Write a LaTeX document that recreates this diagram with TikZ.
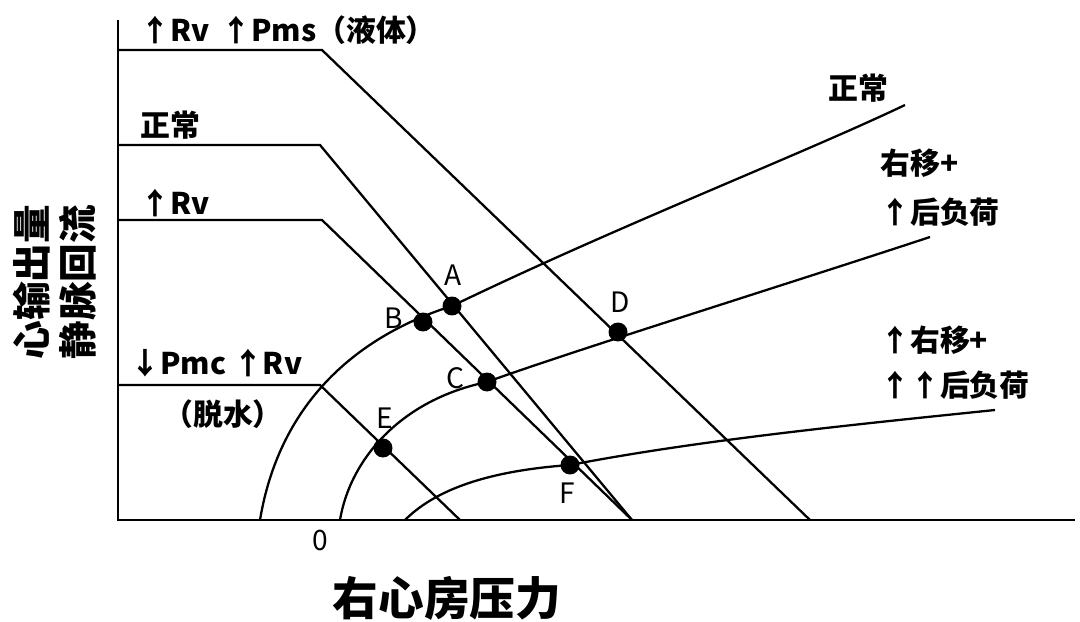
\documentclass[tikz,border=0pt]{standalone}
\usepackage{fontspec}
\newfontfamily\cjk{Noto Sans CJK SC}
\begin{document}
\begin{tikzpicture}[x=0.02cm,y=-0.02cm,
  ln/.style={line width=1.3pt},
  dot/.style={circle,fill=black,inner sep=0pt,minimum size=0.38cm},
  lab/.style={font=\cjk\fontsize{17}{19}\selectfont\bfseries,anchor=west,inner sep=0pt},
  pl/.style={font=\cjk\fontsize{16}{18}\selectfont,inner sep=0pt}]
\useasboundingbox (0,0) rectangle (1080,622);
\coordinate (O) at (118,520);
\coordinate (Ytop) at (118,20);
\coordinate (Xend) at (1075,520);
\draw[ln] (Ytop) -- (O) -- (Xend);
% venous return
\coordinate (v1a) at (118,50); \coordinate (v1b) at (322,50); \coordinate (v1c) at (810,520);
\coordinate (v2a) at (118,145); \coordinate (v2b) at (320,145); \coordinate (v2c) at (632,520);
\coordinate (v3a) at (118,220); \coordinate (v3b) at (322,220); \coordinate (v3c) at (632,520);
\coordinate (v4a) at (118,385); \coordinate (v4b) at (320,385); \coordinate (v4c) at (460,520);
\draw[ln] (v1a)--(v1b)--(v1c);
\draw[ln] (v2a)--(v2b)--(v2c);
\draw[ln] (v3a)--(v3b)--(v3c);
\draw[ln] (v4a)--(v4b)--(v4c);
% points
\node[dot] (A) at (452,306) {};
\node[dot] (B) at (423,322) {};
\node[dot] (C) at (487,382) {};
\node[dot] (D) at (618,332) {};
\node[dot] (E) at (383,448) {};
\node[dot] (F) at (570,465) {};
% cardiac output
\coordinate (c1s) at (260,520); \coordinate (c1e) at (905,105);
\coordinate (c2s) at (340,520); \coordinate (c2e) at (930,237);
\coordinate (c3s) at (405,520); \coordinate (c3e) at (995,410);
\draw[ln] (c1s) .. controls (280,400) and (360,335) .. (A.center) .. controls (620,225) and (800,155) .. (c1e);
\draw[ln] (c2s) .. controls (350,460) and (400,400) .. (C.center) .. controls (560,355) and (800,280) .. (c2e);
\draw[ln] (c3s) .. controls (440,485) and (500,470) .. (F.center) .. controls (700,440) and (850,425) .. (c3e);
% point labels
\node[pl] at (453,275) {A};
\node[pl] at (394,318) {B};
\node[pl] at (455,378) {C};
\node[pl] at (620,302) {D};
\node[pl] at (385,418) {E};
\node[pl] at (567,493) {F};
% curve labels
\node[lab] at (140,30) {↑Rv\, ↑Pms（液体）};
\node[lab] at (140,125) {正常};
\node[lab] at (140,203) {↑Rv};
\node[lab] at (130,363) {↓Pmc ↑Rv};
\node[lab] at (163,414) {（脱水）};
\node[lab] at (828,88) {正常};
\node[lab] at (880,163) {右移+};
\node[lab] at (880,212) {↑后负荷};
\node[lab] at (880,340) {↑右移+};
\node[lab] at (880,385) {↑↑后负荷};
\node[pl] at (320,540) {0};
\node[font=\cjk\fontsize{26}{29}\selectfont\bfseries,inner sep=0pt] at (447,598) {右心房压力};
\node[font=\cjk\fontsize{22}{26}\selectfont\bfseries,rotate=90,align=center,inner sep=0pt] at (55,282) {心输出量\\静脉回流};
\end{tikzpicture}
\end{document}
